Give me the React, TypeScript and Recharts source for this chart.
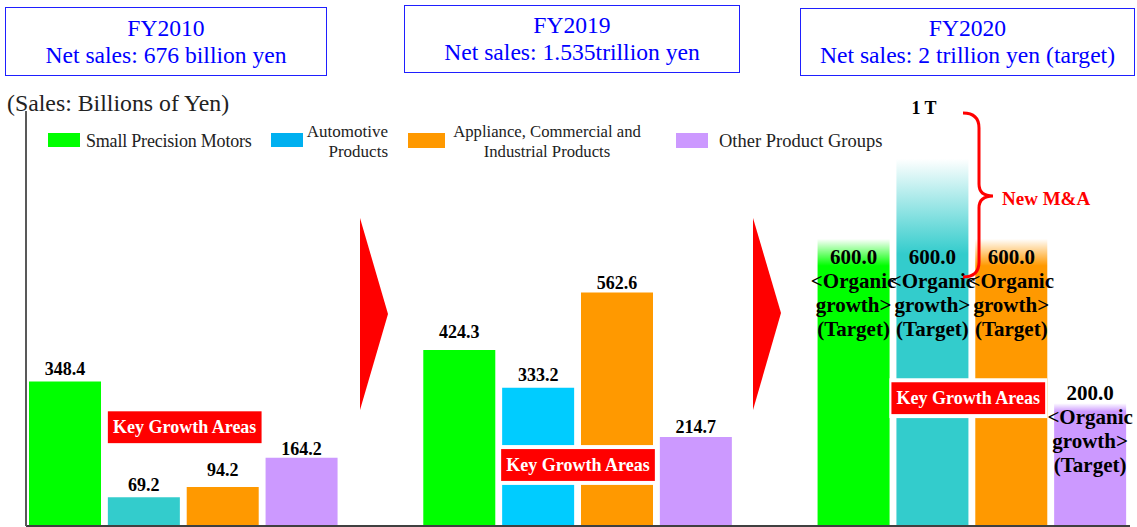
import React from "react";
import { BarChart, Bar, XAxis, YAxis, Cell, LabelList, ReferenceArea } from "recharts";

const SERIF = '"Liberation Serif", "Times New Roman", serif';

// values (billions of yen)
const segments = [
  "Small Precision Motors",
  "Automotive Products",
  "Appliance, Commercial and Industrial Products",
  "Other Product Groups",
];
const fy2010Sales = [348.4, 69.2, 94.2, 164.2];
const fy2019Sales = [424.3, 333.2, 562.6, 214.7];
const fy2020Target = [600.0, 600.0, 600.0, 200.0];
// FY2020 bars are drawn taller than the organic target, fading out at the top (room for new M&A)
const fy2020Drawn = [692, 885, 692, 296];

const headerYears = ["FY2010", "FY2019", "FY2020"];
const headerSales = [
  "Net sales: 676 billion yen",
  "Net sales: 1.535trillion yen",
  "Net sales: 2 trillion yen (target)",
];

const colors2010 = ["#00FF00", "#33CCCC", "#FF9900", "#CC99FF"];
const colors2019 = ["#00FF00", "#00CCFF", "#FF9900", "#CC99FF"];
const colors2020 = ["#00FF00", "#33CCCC", "#FF9900", "#CC99FF"];
const legendColors = ["#00FF00", "#00B0F0", "#FF9900", "#CC99FF"];

// label placement tweaks (px)
const labelGap2010 = [6, 6, 11, 3];
const labelGap2019 = [12, 7, 4, 4];
const targetLabelLift = [13, 13, 13, 43];
const fadeStops = [0.094, 0.26, 0.094, 0.07];

type Row = { slot: string; drawn: number | null; value?: number; year?: string; seg?: number };

const rows: Row[] = [
  ...fy2010Sales.map((v, i) => ({ slot: `FY2010-${i}`, drawn: v, value: v, year: "FY2010", seg: i })),
  { slot: "arrow-1", drawn: null },
  ...fy2019Sales.map((v, i) => ({ slot: `FY2019-${i}`, drawn: v, value: v, year: "FY2019", seg: i })),
  { slot: "arrow-2", drawn: null },
  ...fy2020Target.map((v, i) => ({ slot: `FY2020-${i}`, drawn: fy2020Drawn[i], value: v, year: "FY2020", seg: i })),
];

const keyBoxes = [
  { x1: "FY2010-1", x2: "FY2010-2", y1: 190, y2: 286, dx: 1 },
  { x1: "FY2019-1", x2: "FY2019-2", y1: 99, y2: 195, dx: 0 },
  { x1: "FY2020-1", x2: "FY2020-2", y1: 260, y2: 356, dx: -4 },
];

const headerBoxes = [
  { left: 5, top: 7, width: 322, height: 69 },
  { left: 404, top: 5, width: 336, height: 68 },
  { left: 800, top: 8, width: 335, height: 68 },
];

const fillFor = (r: Row) => {
  if (r.year === "FY2010") return colors2010[r.seg!];
  if (r.year === "FY2019") return colors2019[r.seg!];
  if (r.year === "FY2020") return `url(#fade${r.seg})`;
  return "none";
};

const renderLabel = (props: any) => {
  const vb = props.viewBox && props.viewBox.width != null ? props.viewBox : props;
  const x = Number(vb.x);
  const y = Number(vb.y);
  const width = Number(vb.width);
  const height = Number(vb.height);
  const row = rows.find((r) => r.slot === props.value);
  if (!row || row.drawn == null || row.value == null) return null;
  const cx = x + width / 2;
  if (row.year === "FY2020") {
    const base = y + height;
    const yVal = base - (row.value * height) / row.drawn;
    const top = yVal - targetLabelLift[row.seg!];
    const lines = [row.value.toFixed(1), "<Organic", "growth>", "(Target)"];
    return (
      <text textAnchor="middle" fontFamily={SERIF} fontWeight="bold" fontSize={21} fill="#000">
        {lines.map((l, k) => (
          <tspan key={k} x={cx} y={top + k * 24}>
            {l}
          </tspan>
        ))}
      </text>
    );
  }
  const gap = row.year === "FY2010" ? labelGap2010[row.seg!] : labelGap2019[row.seg!];
  return (
    <text x={cx} y={y - gap} textAnchor="middle" fontFamily={SERIF} fontWeight="bold" fontSize={18} fill="#000">
      {row.value.toFixed(1)}
    </text>
  );
};

const keyBoxShape = (dx: number) => (p: any) => {
  const x = Number(p.x) + dx;
  const y = Number(p.y);
  const w = Number(p.width);
  const h = Number(p.height);
  return (
    <g>
      <rect x={x} y={y} width={w} height={h} fill="#fff" />
      <rect x={x + 2} y={y + 4} width={w - 4} height={h - 8} fill="#FF0000" />
      <text x={x + w / 2} y={y + h / 2 + 6} textAnchor="middle" fontFamily={SERIF} fontWeight="bold" fontSize={18} fill="#fff">
        Key Growth Areas
      </text>
    </g>
  );
};

const legendText: React.CSSProperties = {
  position: "absolute",
  fontFamily: SERIF,
  color: "#222",
  lineHeight: "20px",
  whiteSpace: "nowrap",
};

const Legend = () => (
  <>
    <div style={{ position: "absolute", left: 48, top: 133, width: 32, height: 14, background: legendColors[0] }} />
    <div style={{ ...legendText, left: 86, top: 131, fontSize: 18, letterSpacing: -0.2 }}>{segments[0]}</div>
    <div style={{ position: "absolute", left: 271, top: 133, width: 32, height: 14, background: legendColors[1] }} />
    <div style={{ ...legendText, left: 298, width: 90, top: 122, fontSize: 17, textAlign: "right" }}>
      Automotive
      <br />
      Products
    </div>
    <div style={{ position: "absolute", left: 408, top: 133, width: 37, height: 15, background: legendColors[2] }} />
    <div style={{ ...legendText, left: 447, width: 200, top: 122, fontSize: 16.7, textAlign: "center" }}>
      Appliance, Commercial and
      <br />
      Industrial Products
    </div>
    <div style={{ position: "absolute", left: 676, top: 133, width: 32, height: 15, background: legendColors[3] }} />
    <div style={{ ...legendText, left: 719, top: 131, fontSize: 18.5 }}>{segments[3]}</div>
  </>
);

const Overlay = () => (
  <svg width={1137} height={527} style={{ position: "absolute", left: 0, top: 0, pointerEvents: "none" }}>
    <polygon points="360,218 388,314 360,410" fill="#FF0000" />
    <polygon points="753,218 781,313 753,410" fill="#FF0000" />
    <path
      d="M963,113 Q979,113 979,128 L979,184 Q979,196 993,196 Q979,196 979,208 L979,262 Q979,277 963,277"
      fill="none"
      stroke="#FF0000"
      strokeWidth={3}
    />
    <text x={924} y={114} textAnchor="middle" fontFamily={SERIF} fontWeight="bold" fontSize={18} fill="#000">
      1 T
    </text>
    <text x={1002} y={205} fontFamily={SERIF} fontWeight="bold" fontSize={19} fill="#FF0000">
      New M&amp;A
    </text>
  </svg>
);

export default function App() {
  return (
    <div style={{ position: "absolute", left: 0, top: 0, width: 1137, height: 527, background: "#fff", overflow: "hidden" }}>
      {headerBoxes.map((b, i) => (
        <div
          key={i}
          style={{
            position: "absolute",
            left: b.left,
            top: b.top,
            width: b.width,
            height: b.height,
            boxSizing: "border-box",
            border: "1.5px solid #1F1FFF",
            display: "flex",
            flexDirection: "column",
            justifyContent: "center",
            alignItems: "center",
            fontFamily: SERIF,
            fontSize: 23.6,
            lineHeight: "27px",
            color: "#0000FF",
            whiteSpace: "nowrap",
          }}
        >
          <div>{headerYears[i]}</div>
          <div>{headerSales[i]}</div>
        </div>
      ))}
      <div style={{ position: "absolute", left: 7, top: 89, fontFamily: SERIF, fontSize: 23.8, lineHeight: "28px", color: "#222", whiteSpace: "nowrap" }}>
        (Sales: Billions of Yen)
      </div>
      <Legend />
      <div style={{ position: "absolute", left: 0, top: 0 }}>
        <BarChart width={1137} height={527} data={rows} margin={{ top: 111, right: 7, bottom: 0, left: 25 }} barSize={72}>
          <defs>
            {colors2020.map((c, i) => (
              <linearGradient key={i} id={`fade${i}`} x1="0" y1="0" x2="0" y2="1">
                <stop offset="0" stopColor={c} stopOpacity={0} />
                <stop offset={fadeStops[i]} stopColor={c} stopOpacity={1} />
                <stop offset="1" stopColor={c} stopOpacity={1} />
              </linearGradient>
            ))}
          </defs>
          <XAxis dataKey="slot" type="category" tick={false} tickLine={false} height={1} axisLine={{ stroke: "#404040", strokeWidth: 2 }} />
          <YAxis type="number" domain={[0, 1000]} allowDataOverflow width={1} tick={false} tickLine={false} axisLine={{ stroke: "#595959", strokeWidth: 2 }} />
          <Bar dataKey="drawn" isAnimationActive={false}>
            {rows.map((r, i) => (
              <Cell key={i} fill={fillFor(r)} />
            ))}
            <LabelList dataKey="slot" content={renderLabel} />
          </Bar>
          {keyBoxes.map((k, i) => (
            <ReferenceArea key={i} x1={k.x1} x2={k.x2} y1={k.y1} y2={k.y2} zIndex={1500} shape={keyBoxShape(k.dx)} />
          ))}
        </BarChart>
      </div>
      <Overlay />
    </div>
  );
}
